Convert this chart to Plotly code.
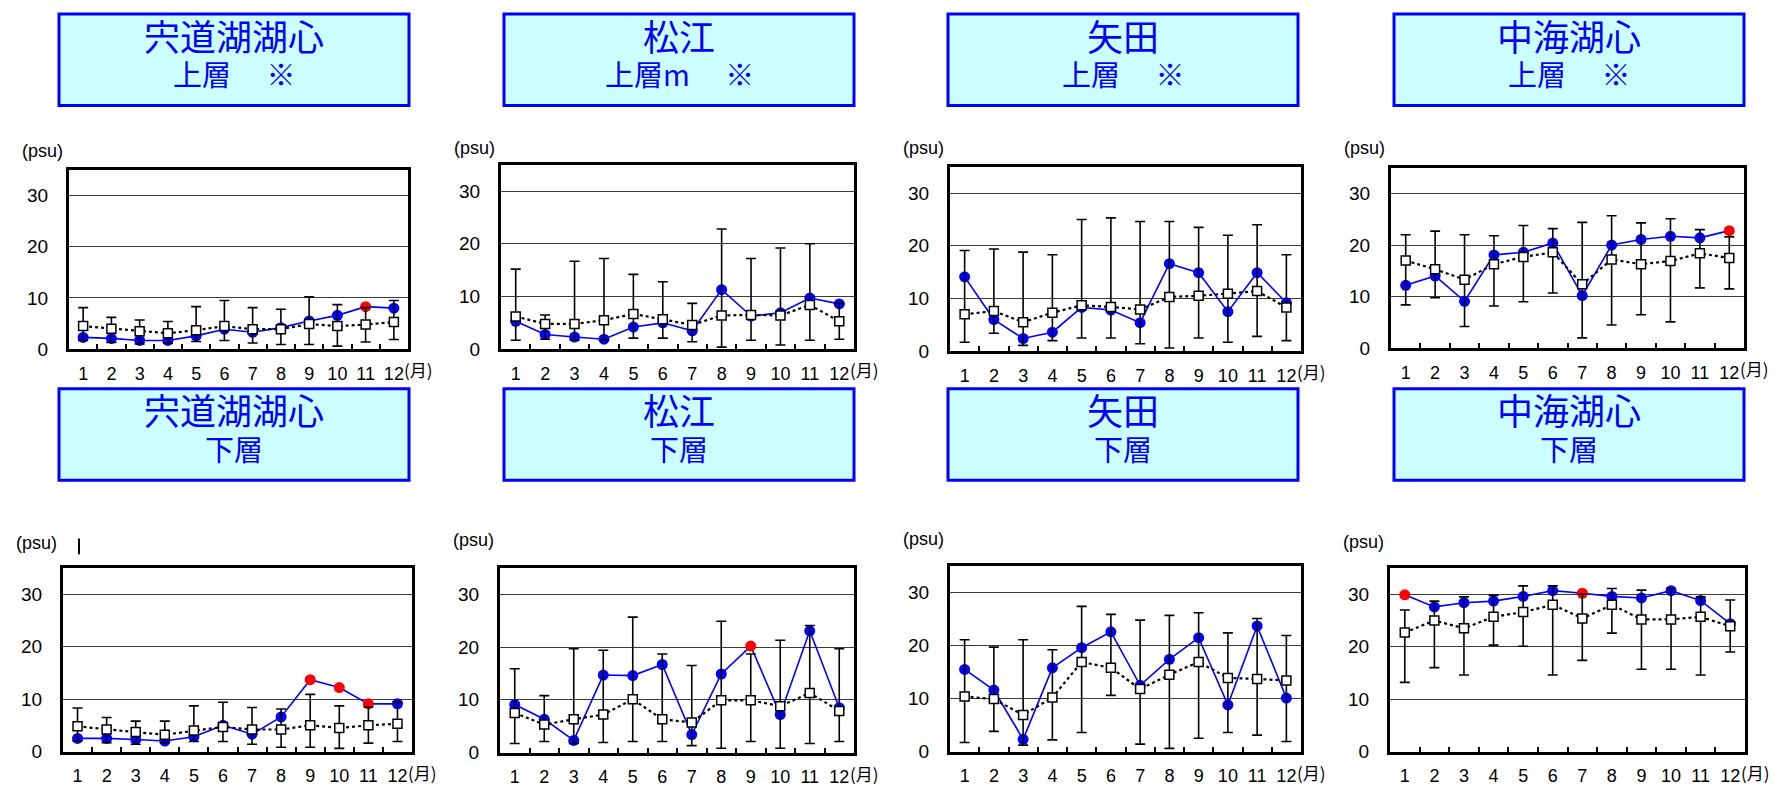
import plotly.graph_objects as go

W, H = 1780, 791

months = [str(i) for i in range(1, 13)]
stations = ["宍道湖湖心", "松江", "矢田", "中海湖心"]
top_layers = ["上層\u3000 ※", "上層m\u3000 ※", "上層\u3000 ※", "上層\u3000 ※"]
bottom_layer = "下層"
y_ticks = [0, 10, 20, 30]

# ---- 宍道湖湖心 上層 ----
shinji_up_obs = [2.3, 2.1, 1.7, 1.7, 2.6, 3.9, 3.3, 4.2, 5.5, 6.6, 8.3, 8.0]
shinji_up_mean = [4.5, 4.0, 3.5, 3.1, 3.7, 4.5, 3.9, 3.9, 4.9, 4.5, 4.8, 5.3]
shinji_up_max = [8.1, 6.2, 5.7, 5.4, 8.3, 9.5, 8.1, 7.8, 10.2, 8.7, 8.1, 9.5]
shinji_up_min = [1.7, 1.3, 1.0, 1.2, 1.5, 1.7, 1.2, 0.9, 0.9, 0.6, 1.4, 1.9]
shinji_up_flag = [11]

# ---- 松江 上層 ----
matsue_up_obs = [5.3, 2.8, 2.3, 1.9, 4.2, 5.0, 3.5, 11.3, 6.3, 6.9, 9.7, 8.6]
matsue_up_mean = [6.2, 4.8, 4.8, 5.5, 6.7, 5.7, 4.6, 6.4, 6.5, 6.4, 8.4, 5.3]
matsue_up_max = [15.2, 6.5, 16.7, 17.2, 14.2, 12.8, 8.7, 22.8, 17.2, 19.2, 20.0, 8.7]
matsue_up_min = [1.7, 1.9, 1.7, 1.7, 2.1, 2.1, 1.4, 0.4, 1.7, 0.8, 1.7, 1.9]
matsue_up_flag = []

# ---- 矢田 上層 ----
yada_up_obs = [14.1, 6.0, 2.4, 3.6, 8.3, 7.8, 5.4, 16.6, 14.9, 7.5, 14.9, 9.2]
yada_up_mean = [7.0, 7.6, 5.5, 7.3, 8.7, 8.4, 7.9, 10.3, 10.5, 10.9, 11.4, 8.3]
yada_up_max = [19.1, 19.4, 18.8, 18.3, 25.0, 25.3, 24.6, 24.6, 23.5, 22.0, 24.0, 18.3]
yada_up_min = [1.7, 3.4, 1.1, 2.0, 2.5, 2.5, 1.4, 0.6, 2.5, 1.7, 2.8, 2.0]
yada_up_flag = []

# ---- 中海湖心 上層 ----
nakaumi_up_obs = [12.2, 14.0, 9.1, 18.1, 18.6, 20.4, 10.2, 20.0, 21.1, 21.7, 21.4, 22.8]
nakaumi_up_mean = [17.0, 15.3, 13.3, 16.3, 17.7, 18.6, 12.4, 17.2, 16.3, 16.9, 18.4, 17.5]
nakaumi_up_max = [22.0, 22.7, 22.0, 21.8, 23.8, 23.2, 24.4, 25.7, 24.3, 25.1, 23.0, 21.6]
nakaumi_up_min = [8.4, 9.8, 4.2, 8.2, 9.0, 10.7, 2.0, 4.5, 6.5, 5.1, 11.7, 11.5]
nakaumi_up_flag = [12]

# ---- 宍道湖湖心 下層 ----
shinji_lo_obs = [2.5, 2.5, 2.3, 2.0, 2.8, 5.0, 3.3, 6.6, 13.7, 12.2, 9.1, 9.1]
shinji_lo_mean = [4.8, 4.2, 3.7, 3.2, 4.0, 4.7, 4.2, 4.2, 5.0, 4.5, 5.0, 5.3]
shinji_lo_max = [8.3, 6.5, 5.8, 5.8, 8.7, 9.4, 8.4, 8.1, 10.9, 8.7, 8.5, 9.5]
shinji_lo_min = [2.0, 1.7, 1.4, 1.7, 1.9, 1.9, 1.4, 0.8, 0.8, 0.6, 1.6, 1.9]
shinji_lo_flag = [9, 10, 11]

# ---- 松江 下層 ----
matsue_lo_obs = [9.1, 6.3, 2.3, 14.7, 14.6, 16.7, 3.4, 14.9, 20.2, 7.2, 23.1, 8.5]
matsue_lo_mean = [7.5, 5.3, 6.3, 7.2, 10.1, 6.3, 5.7, 9.9, 9.9, 8.8, 11.3, 7.9]
matsue_lo_max = [15.9, 10.8, 19.7, 19.4, 25.7, 18.7, 16.5, 24.9, 18.7, 21.3, 24.1, 19.7]
matsue_lo_min = [1.7, 2.1, 1.7, 1.9, 2.1, 2.1, 1.3, 0.8, 2.1, 0.8, 1.7, 2.1]
matsue_lo_flag = [9]

# ---- 矢田 下層 ----
yada_lo_obs = [15.5, 11.6, 2.3, 15.8, 19.6, 22.6, 12.5, 17.4, 21.5, 8.8, 23.7, 10.1]
yada_lo_mean = [10.4, 9.9, 6.9, 10.2, 16.9, 15.8, 11.8, 14.5, 16.9, 13.9, 13.7, 13.4]
yada_lo_max = [21.1, 19.7, 21.1, 19.2, 27.4, 25.9, 24.8, 25.7, 26.2, 22.4, 25.1, 21.9]
yada_lo_min = [1.7, 3.8, 1.2, 2.2, 3.6, 10.6, 1.4, 0.6, 2.5, 3.6, 3.1, 1.9]
yada_lo_flag = []

# ---- 中海湖心 下層 ----
nakaumi_lo_obs = [29.9, 27.6, 28.4, 28.7, 29.6, 30.7, 30.2, 29.6, 29.3, 30.7, 28.8, 24.4]
nakaumi_lo_mean = [22.7, 25.0, 23.5, 25.7, 26.6, 28.0, 25.4, 28.0, 25.2, 25.2, 25.7, 23.9]
nakaumi_lo_max = [27.0, 28.7, 29.5, 29.8, 31.6, 31.6, 30.0, 31.1, 30.8, 31.1, 29.5, 28.9]
nakaumi_lo_min = [13.2, 16.0, 14.6, 20.3, 20.1, 14.6, 17.4, 22.6, 15.7, 15.7, 14.6, 19.0]
nakaumi_lo_flag = [1, 7]

series = [
    (shinji_up_obs, shinji_up_mean, shinji_up_max, shinji_up_min, shinji_up_flag),
    (matsue_up_obs, matsue_up_mean, matsue_up_max, matsue_up_min, matsue_up_flag),
    (yada_up_obs, yada_up_mean, yada_up_max, yada_up_min, yada_up_flag),
    (nakaumi_up_obs, nakaumi_up_mean, nakaumi_up_max, nakaumi_up_min, nakaumi_up_flag),
    (shinji_lo_obs, shinji_lo_mean, shinji_lo_max, shinji_lo_min, shinji_lo_flag),
    (matsue_lo_obs, matsue_lo_mean, matsue_lo_max, matsue_lo_min, matsue_lo_flag),
    (yada_lo_obs, yada_lo_mean, yada_lo_max, yada_lo_min, yada_lo_flag),
    (nakaumi_lo_obs, nakaumi_lo_mean, nakaumi_lo_max, nakaumi_lo_min, nakaumi_lo_flag),
]

# ---- layout (pixel boxes: left, top, right, bottom) ----
panels_px = [
    (61, 164, 400, 346),
    (493, 159, 846, 346),
    (942, 161, 1293, 348),
    (1383, 162, 1736, 345),
    (55, 568, 404, 754),
    (492, 568, 846, 755),
    (942, 566, 1293, 754),
    (1382, 568, 1737, 754),
]
psu_offsets = [19, 17, 19, 20, 25, 28, 28, 26]
title_lefts = [51, 496, 940, 1386]
title_w = 350
title_rows = [(6, 99), (386, 479)]


def px(x):
    return x / W


def py(y):
    return 1 - y / H


BLUE = "#0000ff"
JP = "Noto Sans CJK JP, sans-serif"
NUM = "Liberation Sans Narrow, Liberation Sans, Arial, sans-serif"
NUMY = "Liberation Sans, Arial, sans-serif"

fig = go.Figure()
annotations = []
shapes = []
layout_axes = {}

for i, (obs, mean, mx, mn, flag) in enumerate(series):
    n = i + 1
    xa = "x" if n == 1 else f"x{n}"
    ya = "y" if n == 1 else f"y{n}"
    l, t, r, b = panels_px[i]

    colors = ["#ff0000" if (k + 1) in flag else BLUE for k in range(12)]
    fig.add_trace(go.Scatter(
        x=months, y=obs, xaxis=xa, yaxis=ya, mode="lines+markers",
        line=dict(color=BLUE, width=1.6),
        marker=dict(symbol="circle", size=11, color=colors, line=dict(width=0)),
        showlegend=False, hoverinfo="skip"))
    fig.add_trace(go.Scatter(
        x=months, y=mean, xaxis=xa, yaxis=ya, mode="lines+markers",
        line=dict(color="black", width=2.2, dash="dot"),
        marker=dict(symbol="square", size=9, color="white",
                    line=dict(color="black", width=1.5)),
        error_y=dict(type="data", symmetric=False,
                     array=[a - m for a, m in zip(mx, mean)],
                     arrayminus=[m - c for m, c in zip(mean, mn)],
                     color="black", thickness=1.6, width=5),
        showlegend=False, hoverinfo="skip"))

    xkey = "xaxis" if n == 1 else f"xaxis{n}"
    ykey = "yaxis" if n == 1 else f"yaxis{n}"
    layout_axes[xkey] = dict(
        domain=[px(l), px(r)], anchor=ya, type="category",
        categoryorder="array", categoryarray=months,
        range=[-0.5, 11.5], tickson="boundaries", ticks="inside",
        ticklen=5, tickwidth=1.5, tickcolor="black",
        showgrid=False, zeroline=False, tickangle=0,
        showline=True, linewidth=3, linecolor="black", mirror=True,
        tickfont=dict(family=NUM, size=18, color="black"),
        ticklabelstandoff=6, fixedrange=True)
    layout_axes[ykey] = dict(
        domain=[py(b), py(t)], anchor=xa, range=[0, 35],
        tickmode="array", tickvals=y_ticks, ticktext=[str(v) for v in y_ticks],
        ticks="", showgrid=True, gridcolor="#3a3a3a", gridwidth=1,
        zeroline=False, showline=True, linewidth=3, linecolor="black",
        mirror=True, tickfont=dict(family=NUMY, size=19, color="black"),
        ticklabelstandoff=14, fixedrange=True)

    # unit labels
    annotations.append(dict(
        x=px(l - 4), y=py(t - psu_offsets[i]), xref="paper", yref="paper",
        text="(psu)", showarrow=False, xanchor="right", yanchor="middle",
        font=dict(family=NUMY, size=18, color="black")))
    annotations.append(dict(
        x=px(r - 6), y=py(b + 21), xref="paper", yref="paper",
        text="(月)", showarrow=False, xanchor="left", yanchor="middle",
        font=dict(family=JP, size=17, color="black")))

# title boxes
for row, (tt, tb) in enumerate(title_rows):
    for c in range(4):
        lx = title_lefts[c]
        shapes.append(dict(
            type="rect", xref="paper", yref="paper",
            x0=px(lx), x1=px(lx + title_w), y0=py(tb), y1=py(tt),
            line=dict(color=BLUE, width=3), fillcolor="#ccffff", layer="below"))
        cx = px(lx + title_w / 2)
        annotations.append(dict(
            x=cx, y=py(tt + 21), xref="paper", yref="paper",
            text=stations[c], showarrow=False, xanchor="center", yanchor="middle",
            font=dict(family=JP, size=36, color=BLUE)))
        sub = top_layers[c] if row == 0 else bottom_layer
        annotations.append(dict(
            x=cx, y=py(tt + 60), xref="paper", yref="paper",
            text=sub, showarrow=False, xanchor="center", yanchor="middle",
            font=dict(family=JP, size=29, color=BLUE)))

# stray mark next to (psu) in lower-left panel
shapes.append(dict(type="line", xref="paper", yref="paper",
                   x0=px(71), x1=px(71), y0=py(554), y1=py(538),
                   line=dict(color="black", width=2)))

fig.update_layout(
    width=W, height=H, margin=dict(l=0, r=0, t=0, b=0),
    paper_bgcolor="white", plot_bgcolor="white",
    showlegend=False, annotations=annotations, shapes=shapes,
    **layout_axes)

fig.write_html("out.html")
